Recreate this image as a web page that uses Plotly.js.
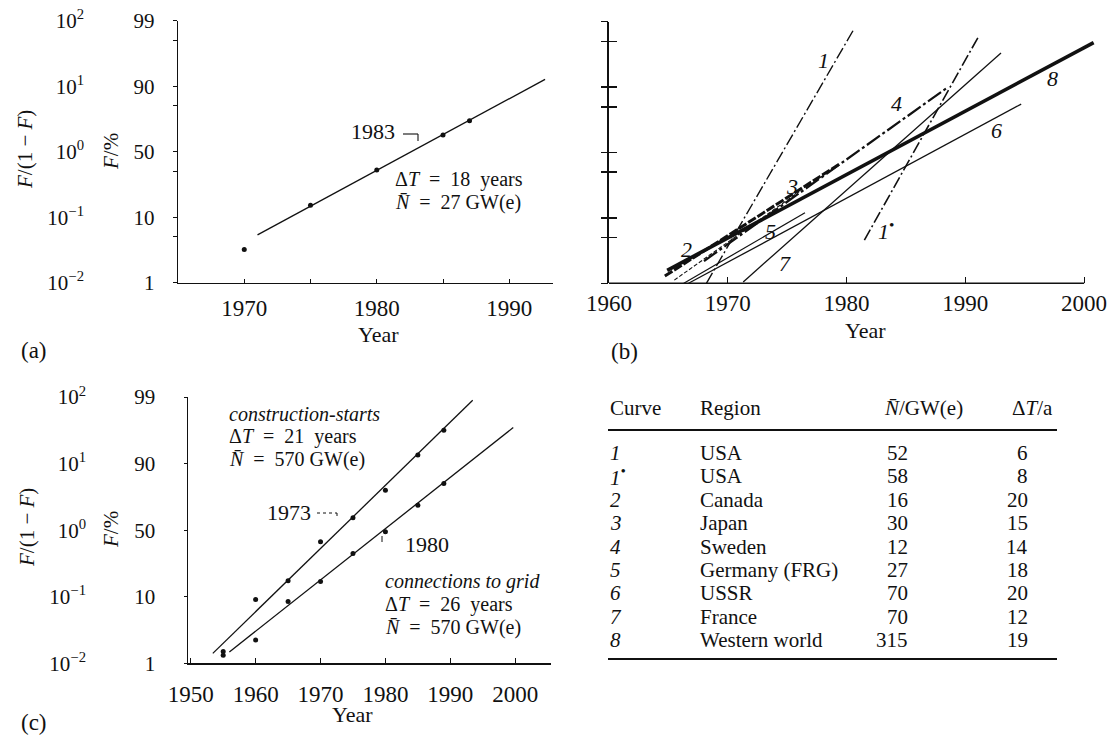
<!DOCTYPE html>
<html><head><meta charset="utf-8">
<script src="https://cdn.plot.ly/plotly-3.0.1.min.js"></script>
<style>html,body{margin:0;padding:0;background:#fff}#chart{width:1109px;height:738px}</style>
</head><body><div id="chart"></div>
<script>
// ---------- DATA ----------
// (a) Germany (FRG): F/(1-F) against year
const aYears = [1970, 1975, 1980, 1985, 1987];
const aRatio = [0.032, 0.152, 0.525, 1.8, 2.97];
const aFitYears = [1971.0, 1992.7];
const aFitRatio = [0.0537, 12.7];

// (b) fitted logistic lines per region (end points)
const bCurves = ['1', '1•', '2', '3', '4', '5', '6', '7', '8'];
const bStartYear = [1968.2, 1981.5, 1964.7, 1965.5, 1968.0, 1966.3, 1966.7, 1971.3, 1964.9];
const bEndYear = [1980.6, 1991.1, 1979.5, 1976.0, 1988.4, 1976.5, 1994.7, 1993.0, 2000.8];
const bStartRatio = [0.01, 0.0457, 0.0129, 0.0112, 0.0219, 0.01, 0.01, 0.0105, 0.0158];
const bEndRatio = [75.9, 58.9, 0.684, 0.251, 9.55, 0.120, 5.5, 33.1, 47.9];

// (c) Western world
const cYears = [1955, 1960, 1965, 1970, 1975, 1980, 1985, 1989];
const cStarts = [0.015, 0.091, 0.174, 0.668, 1.53, 3.98, 13.5, 31.6];
const cGrid = [0.0132, 0.0224, 0.085, 0.17, 0.447, 0.944, 2.37, 5.0];
const cStartsFitYears = [1953.4, 1993.45];
const cStartsFitRatio = [0.0141, 89.1];
const cGridFitYears = [1955.95, 1999.7];
const cGridFitRatio = [0.0148, 34.7];

// ticks
const ratioTicks = [0.01, 0.1, 1, 10, 100];
const percentLabels = ['1', '10', '50', '90', '99'];
const powerLabels = ['10<sup>−2</sup>', '10<sup>−1</sup>', '10<sup>0</sup>', '10<sup>1</sup>', '10<sup>2</sup>'];
const minorRatioTicks = [0.05, 0.5, 5, 50];
const aYearTicks = [1970, 1980, 1990];
const aYearMinor = [1975, 1985];
const bYearTicks = [1960, 1970, 1980, 1990, 2000];
const cYearTicks = [1950, 1960, 1970, 1980, 1990, 2000];

// table
const tCurve = ['1', '1<sup>•</sup>', '2', '3', '4', '5', '6', '7', '8'];
const tRegion = ['USA', 'USA', 'Canada', 'Japan', 'Sweden', 'Germany (FRG)', 'USSR', 'France', 'Western world'];
const tN = [52, 58, 16, 30, 12, 27, 70, 70, 315];
const tDT = [6, 8, 20, 15, 14, 18, 20, 12, 19];

// ---------- LAYOUT HELPERS ----------
const W = 1109, H = 738;
const px = x => x / W;
const py = y => 1 - y / H;
const SERIF = 'Liberation Serif, Times New Roman, serif';
const BLACK = '#111';
const f = (s) => ({family: SERIF, size: s, color: BLACK});

function ann(text, x, y, xanchor, size, extra) {
  return Object.assign({text: text, x: px(x), y: py(y), xref: 'paper', yref: 'paper',
    xanchor: xanchor || 'left', yanchor: 'middle', showarrow: false, font: f(size || 22)}, extra || {});
}
function seg(x0, y0, x1, y1, w, dash) {
  return {type: 'line', xref: 'paper', yref: 'paper', x0: px(x0), y0: py(y0), x1: px(x1), y1: py(y1),
    line: {color: BLACK, width: w || 1.2, dash: dash || 'solid'}};
}

const bStyle = {
  '1': {dash: '12px,3px,2px,3px', width: 1.4},
  '1•': {dash: '12px,3px,2px,3px', width: 1.6},
  '2': {dash: '9px,2px', width: 3},
  '3': {dash: '4px,2px', width: 1.1},
  '4': {dash: '16px,3px,3px,3px', width: 2.2},
  '5': {dash: 'solid', width: 1.2},
  '6': {dash: 'solid', width: 1.3},
  '7': {dash: 'solid', width: 1.3},
  '8': {dash: 'solid', width: 3.6}
};
const bLabelPos = {'1': [1978.05, 1.41], '1•': [1983.3, -1.19], '2': [1966.5, -1.49], '3': [1975.4, -0.52],
  '4': [1984.2, 0.75], '5': [1973.6, -1.21], '6': [1992.6, 0.34], '7': [1974.8, -1.69], '8': [1997.3, 1.13]};

// ---------- TRACES ----------
const traces = [];
const dot = {color: BLACK, size: 5};
// (a)
traces.push({x: aFitYears, y: aFitRatio, xaxis: 'x', yaxis: 'y2', mode: 'lines', line: {color: BLACK, width: 1.3}, hoverinfo: 'skip'});
traces.push({x: aYears, y: aRatio, xaxis: 'x', yaxis: 'y', mode: 'markers', marker: dot});
// (b)
bCurves.forEach((c, i) => {
  traces.push({x: [bStartYear[i], bEndYear[i]], y: [bStartRatio[i], bEndRatio[i]],
    xaxis: 'x2', yaxis: i === 0 ? 'y4' : 'y3', mode: 'lines', name: c,
    line: {color: BLACK, width: bStyle[c].width, dash: bStyle[c].dash}});
});
// (c)
traces.push({x: cStartsFitYears, y: cStartsFitRatio, xaxis: 'x3', yaxis: 'y6', mode: 'lines', line: {color: BLACK, width: 1.3}});
traces.push({x: cGridFitYears, y: cGridFitRatio, xaxis: 'x3', yaxis: 'y5', mode: 'lines', line: {color: BLACK, width: 1.3}});
traces.push({x: cYears, y: cStarts, xaxis: 'x3', yaxis: 'y5', mode: 'markers', marker: dot});
traces.push({x: cYears, y: cGrid, xaxis: 'x3', yaxis: 'y5', mode: 'markers', marker: dot});

// ---------- AXES ----------
const baseAx = {showgrid: false, zeroline: false, color: BLACK, linecolor: BLACK, tickcolor: BLACK, tickfont: f(21)};
function logY(domTop, domBot, extra) {
  return Object.assign({}, baseAx, {type: 'log', range: [-2, 2], domain: [py(domBot), py(domTop)],
    tickmode: 'array', tickvals: ratioTicks}, extra);
}
const xTickFont = f(23);

const layout = {
  width: W, height: H, margin: {l: 0, r: 0, t: 0, b: 0},
  paper_bgcolor: '#fff', plot_bgcolor: 'rgba(0,0,0,0)', showlegend: false,
  font: f(21),
  // (a)
  xaxis: Object.assign({}, baseAx, {domain: [px(178), px(553)], range: [1965, 1993.3], anchor: 'y',
    showline: true, linewidth: 1.2, tickmode: 'array', tickvals: aYearTicks, ticks: 'inside', ticklen: 4,
    tickfont: xTickFont, ticklabelstandoff: 4,
    minor: {tickmode: 'array', tickvals: aYearMinor, ticks: 'inside', ticklen: 4, tickcolor: BLACK}}),
  yaxis: logY(20.7, 282.7, {anchor: 'x', showline: true, linewidth: 1.2, ticktext: percentLabels,
    ticks: 'outside', ticklen: 4, ticklabelstandoff: 14,
    minor: {tickmode: 'array', tickvals: minorRatioTicks, ticks: 'outside', ticklen: 4, tickcolor: BLACK}}),
  yaxis2: logY(20.7, 282.7, {overlaying: 'y', anchor: 'free', position: px(84), side: 'left',
    showline: false, ticks: '', ticktext: powerLabels}),
  // (b)
  xaxis2: Object.assign({}, baseAx, {domain: [px(609), px(1096)], range: [1960, 2001], anchor: 'y3',
    showline: false, tickmode: 'array', tickvals: bYearTicks, ticks: 'inside', ticklen: 6,
    tickfont: xTickFont, ticklabelstandoff: 4}),
  yaxis3: logY(21.7, 283.3, {anchor: 'x2', showline: true, linewidth: 2, showticklabels: false,
    ticks: 'inside', ticklen: 8, tickwidth: 1.5,
    minor: {tickmode: 'array', tickvals: minorRatioTicks, ticks: 'inside', ticklen: 8, tickwidth: 1.5, tickcolor: BLACK}}),
  yaxis4: logY(21.7, 283.3, {overlaying: 'y3', anchor: 'x2', side: 'left', showline: false, showticklabels: false,
    ticks: 'outside', ticklen: 7, tickwidth: 1.5,
    minor: {tickmode: 'array', tickvals: minorRatioTicks, ticks: 'outside', ticklen: 7, tickwidth: 1.5, tickcolor: BLACK}}),
  // (c)
  xaxis3: Object.assign({}, baseAx, {domain: [px(187.5), px(550.9)], range: [1949.5, 2005.5], anchor: 'y5',
    showline: true, linewidth: 1.2, tickmode: 'array', tickvals: cYearTicks, ticks: 'inside', ticklen: 5,
    tickfont: xTickFont, ticklabelstandoff: 10}),
  yaxis5: logY(397, 663.3, {anchor: 'x3', showline: true, linewidth: 1, ticktext: percentLabels,
    ticks: 'outside', ticklen: 3, ticklabelstandoff: 24}),
  yaxis6: logY(397, 663.3, {overlaying: 'y5', anchor: 'free', position: px(86), side: 'left',
    showline: false, ticks: '', ticktext: powerLabels}),
  shapes: [],
  annotations: []
};

const A = layout.annotations, S = layout.shapes;
// panel (b) x axis line only up to 2000
S.push({type: 'line', xref: 'x2', yref: 'paper', x0: 1960, x1: 2000, y0: py(283.3), y1: py(283.3), line: {color: BLACK, width: 1.6}});

// axis titles and panel tags
[[25, 150], [27, 528]].forEach(p => A.push(ann('<i>F</i>/(1 − <i>F</i>)', p[0], p[1], 'center', 21, {textangle: -90})));
[[111, 152], [111, 530]].forEach(p => A.push(ann('<i>F</i>/%', p[0], p[1], 'center', 21, {textangle: -90})));
A.push(ann('Year', 378, 334, 'center', 22));
A.push(ann('Year', 865, 330, 'center', 22));
A.push(ann('Year', 352, 714, 'center', 22));
A.push(ann('(a)', 19, 350, 'left', 23));
A.push(ann('(b)', 609, 351, 'left', 23));
A.push(ann('(c)', 19, 722, 'left', 23));

// (a) texts
const NF = 20;
A.push(ann('1983', 397, 132, 'right', 22));
S.push(seg(403, 134, 418, 134, 1.1), seg(418, 134, 418, 141, 1.1));
A.push(ann('Δ<i>T</i>  =  18  years', 393, 179, 'left', NF));
A.push(ann('<i>N\u0304</i>  =  27 GW(e)', 393, 202, 'left', NF));

// (b) curve labels
bCurves.forEach(c => {
  const t = c === '1•' ? '<i>1</i><sup>•</sup>' : '<i>' + c + '</i>';
  A.push({text: t, x: bLabelPos[c][0], y: bLabelPos[c][1], xref: 'x2', yref: 'y3', showarrow: false,
    xanchor: 'center', yanchor: 'middle', font: f(22)});
});

// (c) texts
A.push(ann('<i>construction-starts</i>', 227, 414, 'left', NF));
A.push(ann('Δ<i>T</i>  =  21  years', 227, 437, 'left', NF));
A.push(ann('<i>N\u0304</i>  =  570 GW(e)', 227, 460, 'left', NF));
A.push(ann('1973', 313, 512, 'right', 22));
S.push(seg(317, 513, 337, 513, 1, 'dot'), seg(337, 513, 337, 519, 1, 'dot'));
A.push(ann('1980', 403, 544, 'left', 22));
S.push(seg(382, 536, 382, 542, 1));
A.push(ann('<i>connections to grid</i>', 383, 581, 'left', NF));
A.push(ann('Δ<i>T</i>  =  26  years', 383, 604, 'left', NF));
A.push(ann('<i>N\u0304</i>  =  570 GW(e)', 383, 627, 'left', NF));

// table
const TF = 21;
A.push(ann('Curve', 608, 408, 'left', TF));
A.push(ann('Region', 698, 408, 'left', TF));
A.push(ann('<i>N\u0304</i>/GW(e)', 965, 408, 'right', TF));
A.push(ann('Δ<i>T</i>/a', 1055, 408, 'right', TF));
S.push(seg(608, 430, 1057, 430, 2), seg(608, 659, 1057, 659, 2));
tRegion.forEach((r, i) => {
  const y = 453 + i * 23.4;
  A.push(ann('<i>' + tCurve[i] + '</i>', 608, y, 'left', TF));
  A.push(ann(r, 698, y, 'left', TF));
  A.push(ann(String(tN[i]), 910, y, 'right', TF));
  A.push(ann(String(tDT[i]), 1030, y, 'right', TF));
});

Plotly.newPlot('chart', traces, layout, {staticPlot: true, displayModeBar: false});
</script></body></html>
